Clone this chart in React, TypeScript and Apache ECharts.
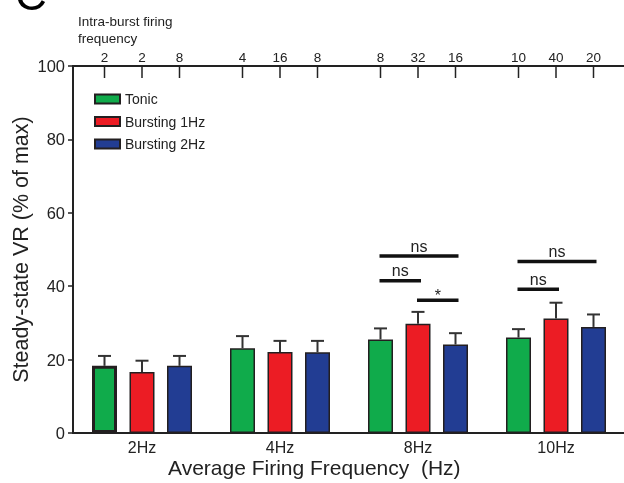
import React, { useEffect, useRef } from "react";
import * as echarts from "echarts";

// Average firing frequency groups
const categories = ["2Hz", "4Hz", "8Hz", "10Hz"];
const seriesNames = ["Tonic", "Bursting 1Hz", "Bursting 2Hz"];

// Steady-state VR (% of max), mean and SEM per group
const tonicMean = [18.3, 23.1, 25.5, 26.0];
const tonicSem = [2.7, 3.3, 3.0, 2.3];
const burst1Mean = [16.6, 22.1, 29.8, 31.2];
const burst1Sem = [3.1, 3.0, 3.2, 4.3];
const burst2Mean = [18.3, 22.0, 24.1, 28.9];
const burst2Sem = [2.7, 3.1, 3.1, 3.4];

// Intra-burst firing frequency for each bar (top axis)
const intraBurstFreq = [
  [2, 2, 8],
  [4, 16, 8],
  [8, 32, 16],
  [10, 40, 20],
];

// Pairwise comparisons: [group, fromBar, toBar, height]
const comparisons = [
  [2, 0, 2, 48.2],
  [2, 0, 1, 41.5],
  [2, 1, 2, 36.2],
  [3, 0, 2, 46.7],
  [3, 0, 1, 39.2],
];
const comparisonLabels = ["ns", "ns", "*", "ns", "ns"];

const yMin = 0;
const yMax = 100;
const yInterval = 20;

const colors = ["#10ab4b", "#ec1c24", "#223d93"];
const FONT = "Liberation Sans, Arial, Helvetica, sans-serif";
const BAR_WIDTH = 25;
const BAR_GAP = 0.5;
const BAR_STEP = BAR_WIDTH * (1 + BAR_GAP);

export default function App() {
  const ref = useRef<HTMLDivElement>(null);

  useEffect(() => {
    if (!ref.current) return;
    const chart = echarts.init(ref.current, undefined, { renderer: "svg" });

    const means = [tonicMean, burst1Mean, burst2Mean];
    const sems = [tonicSem, burst1Sem, burst2Sem];

    const barSeries = seriesNames.map((name, s) => ({
      name,
      type: "bar",
      xAxisIndex: 0,
      yAxisIndex: 0,
      barWidth: BAR_WIDTH,
      barGap: `${BAR_GAP * 100}%`,
      itemStyle: { color: colors[s], borderColor: "#231f20", borderWidth: 1.5 },
      data: means[s].map((v, g) =>
        s === 0 && g === 0
          ? { value: v, itemStyle: { borderWidth: 3 } }
          : v
      ),
      z: 2,
    }));

    const errorData: number[][] = [];
    means.forEach((arr, s) =>
      arr.forEach((m, g) => errorData.push([g, s, m, sems[s][g]]))
    );

    const topTickData: number[][] = [];
    intraBurstFreq.forEach((row, g) =>
      row.forEach((f, b) => topTickData.push([g, b, f]))
    );

    const option: any = {
      animation: false,
      textStyle: { fontFamily: FONT },
      grid: {
        left: 73,
        top: 66,
        width: 552,
        height: 367,
        containLabel: false,
        outerBoundsMode: "none",
      },
      legend: {
        data: seriesNames,
        orient: "vertical",
        left: 94,
        top: 92,
        padding: 0,
        icon: "rect",
        itemWidth: 25,
        itemHeight: 9,
        itemGap: 8.5,
        textStyle: { fontFamily: FONT, fontSize: 14, color: "#222" },
      },
      xAxis: [
        {
          type: "category",
          data: categories,
          position: "bottom",
          axisLine: { lineStyle: { color: "#222", width: 2 } },
          axisTick: { alignWithLabel: true, length: 5, lineStyle: { width: 1.5 } },
          axisLabel: { fontFamily: FONT, fontSize: 16, color: "#222", margin: 6 },
        },
        {
          type: "category",
          data: categories,
          position: "top",
          axisLine: { lineStyle: { color: "#222", width: 2 } },
          axisTick: { show: false },
          axisLabel: { show: false },
        },
      ],
      yAxis: {
        type: "value",
        min: yMin,
        max: yMax,
        interval: yInterval,
        name: "Steady-state VR (% of max)",
        nameLocation: "middle",
        nameGap: 41,
        nameMoveOverlap: false,
        nameTextStyle: { fontFamily: FONT, fontSize: 21.5, color: "#222" },
        axisLine: { show: true, lineStyle: { color: "#222", width: 2 } },
        axisTick: { show: true, length: 5, lineStyle: { width: 1.5 } },
        axisLabel: { fontFamily: FONT, fontSize: 16.5, color: "#222", margin: 8 },
        splitLine: { show: false },
      },
      series: [
        ...barSeries,
        {
          type: "custom",
          name: "sem",
          xAxisIndex: 0,
          yAxisIndex: 0,
          encode: { x: 0, y: 2 },
          z: 3,
          data: errorData,
          renderItem: (params: any, api: any) => {
            const g = api.value(0);
            const b = api.value(1);
            const m = api.value(2);
            const e = api.value(3);
            const base = api.coord([g, m]);
            const top = api.coord([g, m + e]);
            const x = base[0] + (b - 1) * BAR_STEP;
            const st = { stroke: "#333", lineWidth: 2 };
            return {
              type: "group",
              children: [
                { type: "line", shape: { x1: x, y1: base[1], x2: x, y2: top[1] }, style: st },
                { type: "line", shape: { x1: x - 6.5, y1: top[1], x2: x + 6.5, y2: top[1] }, style: st },
              ],
            };
          },
        },
        {
          type: "custom",
          name: "comparisons",
          xAxisIndex: 0,
          yAxisIndex: 0,
          encode: { x: 0, y: 3 },
          z: 3,
          data: comparisons,
          renderItem: (params: any, api: any) => {
            const g = api.value(0);
            const from = api.value(1);
            const to = api.value(2);
            const h = api.value(3);
            const p = api.coord([g, h]);
            const x1 = p[0] + (from - 1) * BAR_STEP - 1;
            const x2 = p[0] + (to - 1) * BAR_STEP + 3;
            const label = comparisonLabels[params.dataIndex];
            const isStar = label === "*";
            return {
              type: "group",
              children: [
                {
                  type: "line",
                  shape: { x1, y1: p[1], x2, y2: p[1] },
                  style: { stroke: "#111", lineWidth: 3.5 },
                },
                {
                  type: "text",
                  x: (x1 + x2) / 2,
                  y: isStar ? p[1] + 3 : p[1] - 2,
                  style: {
                    text: label,
                    fontFamily: FONT,
                    fontSize: 16,
                    fill: "#222",
                    align: "center",
                    verticalAlign: "bottom",
                  },
                },
              ],
            };
          },
        },
        {
          type: "custom",
          name: "intraBurst",
          xAxisIndex: 0,
          yAxisIndex: 0,
          encode: { x: 0 },
          z: 3,
          data: topTickData,
          renderItem: (params: any, api: any) => {
            const g = api.value(0);
            const b = api.value(1);
            const f = api.value(2);
            const p = api.coord([g, yMax]);
            const x = p[0] + (b - 1) * BAR_STEP;
            return {
              type: "group",
              children: [
                {
                  type: "line",
                  shape: { x1: x, y1: p[1], x2: x, y2: p[1] + 12 },
                  style: { stroke: "#222", lineWidth: 1.5 },
                },
                {
                  type: "text",
                  x,
                  y: p[1] - 2,
                  style: {
                    text: String(f),
                    fontFamily: FONT,
                    fontSize: 13.5,
                    fill: "#222",
                    align: "center",
                    verticalAlign: "bottom",
                  },
                },
              ],
            };
          },
        },
      ],
      graphic: [
        {
          type: "text",
          left: 15,
          top: -28,
          style: { text: "C", fontFamily: FONT, fontSize: 44, fill: "#000" },
        },
        {
          type: "text",
          left: 78,
          top: 13,
          style: {
            text: "Intra-burst firing\nfrequency",
            fontFamily: FONT,
            fontSize: 13.5,
            lineHeight: 17,
            fill: "#222",
          },
        },
        {
          type: "text",
          left: 168,
          top: 457,
          style: {
            text: "Average Firing Frequency  (Hz)",
            fontFamily: FONT,
            fontSize: 21,
            fill: "#222",
          },
        },
      ],
    };

    chart.setOption(option);
    return () => chart.dispose();
  }, []);

  return (
    <div
      ref={ref}
      style={{ position: "fixed", left: 0, top: 0, width: 624, height: 483 }}
    />
  );
}
